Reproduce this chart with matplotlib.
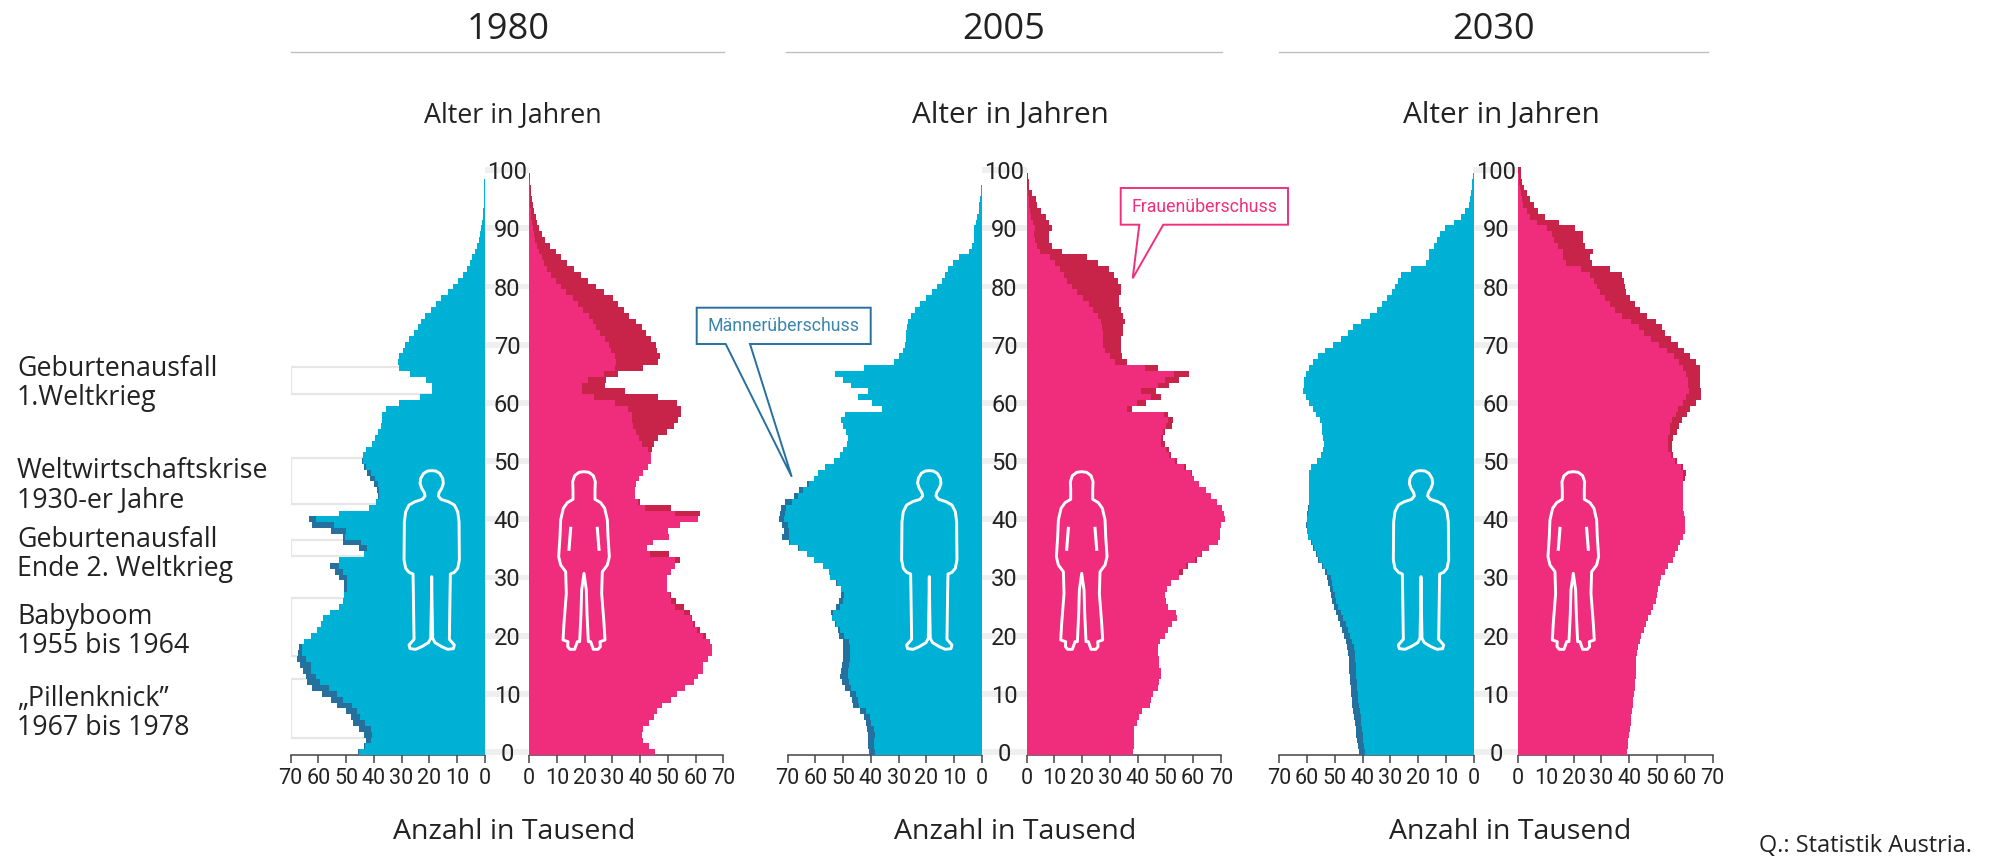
import matplotlib
matplotlib.use("Agg")
import matplotlib.pyplot as plt
from matplotlib.patches import Polygon, Rectangle

W, H = 1991, 857
BODY = ['Open Sans', 'DejaVu Sans']
NARROW = ['Roboto', 'DejaVu Sans']

# values by age, oldest first (age 100 ... age 0), thousands of persons
ages = list(range(100, -1, -1))
male_1980 = [.03,.05,.1,.15,.2,.3,.4,.5,.6,.8,1.2,1.7,2.2,2.8,3.5,4.5,5.3,6.5,7.9,9.5,11.5,13.4,15.6,17.6,19.2,21.4,23,24,25.5,27.2,28.6,29.6,30.8,31.4,30.8,27,21.2,18.9,18.9,23.5,30.9,35.6,37.2,37.2,37.4,38.4,39.6,40.8,42.9,44,44.4,
             43.5,42.6,41.4,39.9,38.7,38.6,39.4,41.6,52.6,63.3,62.3,55.6,51.2,51.2,45.2,43.7,52.4,56,54,52.4,50.8,50.6,50.8,51.2,52.7,55.8,58.5,59.2,60.6,62.8,65.2,66.9,67.4,67.6,66.6,65.4,64.5,64,62.3,58.8,55.6,53.2,50,48.2,47.4,45.2,43.4,42.8,43.4,45.6]
female_1980 = [0,.2,.35,.5,.6,.85,1.2,1.8,2.3,2.8,3.5,4.6,5.7,7.5,9.5,11.4,13.5,16.1,18.6,21.3,24,27,30.3,32.1,34.2,36,38.5,40.8,42.1,43.8,45.6,46.2,47.2,46.5,41,32.1,27.7,27.4,34.6,46.5,53.4,54.6,54.6,53.8,52.2,49.8,46.5,45,44.3,44,43.8,
               42.7,41.1,39.5,38.5,38.1,38.1,40,51.1,61.7,60.7,54.2,50.2,50.4,44.7,42.6,50.4,54.4,52.6,51.1,49.8,49.6,49.8,51,52.8,55.8,58,58.6,59.8,61.6,63.7,65.2,65.8,65.8,64.5,62.8,62.5,61,59.4,56.2,53.2,51,47.8,45.9,45.1,43.2,41.1,40.8,41.1,43.2,45.3]
male_2005 = [.02,.05,.1,.2,.4,.7,1,1.2,1.7,2.2,2.9,2.8,2.9,3.7,4.8,8.4,10.3,12.1,13.3,14.5,16.2,18,20.3,22.3,24,25.6,26.7,27.1,27.4,27.4,27.6,28.3,29.9,31.7,42.5,52.9,49.9,47.2,41.2,44.8,39.7,36,49.3,50.8,50.2,49,48.3,48.5,50.2,51.1,53.3,
             56.5,59.2,60.7,62.9,65.9,67.9,70.9,72.5,72.7,73.3,71.9,71.5,71.9,69.7,66.4,62.9,60.7,57.4,55,54.7,52.6,50.9,50.9,51.5,52.6,54.5,54.1,52.9,52,51.4,49.9,50.2,50.2,50.2,50.3,50.9,51,50.5,49.3,47.5,46.9,46.3,43.9,42.5,41.8,41.3,41.2,41.2,40.9,40.6]
female_2005 = [.2,.5,.7,1,1.8,3.2,3.6,5,6.8,8.2,9.1,8.2,8.2,9.1,12.7,21.8,25.8,29.5,31.5,32.9,34,34,33.4,33.1,34,34.8,35.4,34.8,34.6,34,33.9,33.9,34.5,36,47.2,58.5,54.9,51.1,46.6,48.4,43,37.9,51,52.8,52.2,50,49.2,50,51.3,52,54,
               57.3,59.4,60.4,62.2,64.6,66.3,68.4,70.5,71.1,71.3,69.9,69.7,69.7,69,65.8,63.1,61.2,58.2,56.4,55,52.1,50.7,49.8,50.2,51,53.7,54,52.5,51,49.7,48,47.4,47.4,47.5,47.8,48.3,48.3,47.8,47.2,45.4,44.8,44.4,41.7,40.5,39.9,38.8,38.7,38.8,38.8,38.4]
male_2030 = [.05,.35,.5,.6,1,1.3,1.7,3.1,4.4,7,10.3,12.1,13.1,14.3,16,16.1,17.3,22.6,26,27.3,28.3,29.4,31.1,33,34.8,37.3,40.6,43.5,45.4,47.8,50.8,53.5,56.1,57.9,59.3,60.4,61,61.2,61.3,60.4,59.3,57.7,56.8,55.3,54.7,54.5,54.1,53.8,54.1,55,56.5,
             58.5,59.2,59.2,59.2,59.2,59.2,59.4,59.7,59.9,60.1,60.3,60.1,59.5,58.7,58,56.9,55.9,54.7,53.5,52.7,52.3,51.7,51.4,50.9,50.3,49.7,48.7,48.1,47.3,46.7,46,45.5,45.3,45,44.9,44.8,44.7,44.5,44.3,44.2,43.9,43.7,43.5,43.2,42.9,42.5,42.3,41.9,41.7,41.3]
female_2030 = [1,1.1,1.3,2.3,3.2,4.4,5.8,7.3,9.6,14.6,20.5,23.2,23.5,24.1,26.8,25.9,26.5,33.1,37.5,38.2,38.5,38.9,40.3,42.1,43.8,46.2,49.5,51.7,52.9,55.1,57.5,59.8,61.9,64,65.4,65.5,65.5,65.5,65.8,65.8,63.9,61.9,60.7,58.9,57.9,57.1,55.6,55.2,55.2,55.6,57.1,
               59.3,60.4,60.1,59.5,59.3,59.3,59.3,59.4,59.7,59.9,59.9,59.9,59.5,58.1,57.4,56.5,55.6,54.1,52.7,51.4,50.9,50.5,49.9,49.5,48.7,47.9,46.9,46.1,45.4,44.4,43.7,43.1,42.7,42.6,42.5,42.4,42.3,42.1,42,41.8,41.5,41.2,40.9,40.7,40.5,40.2,40,39.7,39.5,39.1]
years = ['1980', '2005', '2030']
male = [male_1980, male_2005, male_2030]
female = [female_1980, female_2005, female_2030]
age_ticks = [0, 10, 20, 30, 40, 50, 60, 70, 80, 90, 100]
count_ticks = [0, 10, 20, 30, 40, 50, 60, 70]
# age spans outlined behind the 1980 pyramid (low, high)
span_low = [61.6, 42.6, 33.7, 16.5, 2.5]
span_high = [66.2, 50.5, 36.4, 26.5, 12.5]
label_first = ['Geburtenausfall', 'Weltwirtschaftskrise', 'Geburtenausfall', 'Babyboom', '\u201ePillenknick\u201d']
label_second = ['1.Weltkrieg', '1930-er Jahre', 'Ende 2. Weltkrieg', '1955 bis 1964', '1967 bis 1978']

CYAN, BLUE, PINK, RED = '#00B1D6', '#26709E', '#F02C7C', '#C82349'
TXT = '#222222'

fig = plt.figure(figsize=(W / 100, H / 100), dpi=100, facecolor='white')

def axpx(x0, x1, y0, y1):
    return fig.add_axes([x0 / W, 1 - y1 / H, (x1 - x0) / W, (y1 - y0) / H])

# overlay in pixel coordinates for decoration
ov = fig.add_axes([0, 0, 1, 1], zorder=5)
ov.set_xlim(0, W); ov.set_ylim(H, 0); ov.axis('off'); ov.patch.set_alpha(0)

MAN = [(0,32),(12,33),(24,40),(33,55),(35,70),(30,85),(22,98),(20,108),(28,118),(50,125),(68,135),(78,155),(82,185),(83,300),(78,325),(68,337),(56,342),(55,400),(53,538),(68,555),(65,566),(48,568),(30,560),(10,548),(3,535),(1,430),(0,350)]
WOMAN = [(0,35),(15,37),(28,47),(34,65),(33,90),(33,118),(50,128),(62,145),(70,180),(72,230),(76,290),(70,315),(55,335),(53,400),(60,490),(63,540),(48,545),(49,560),(42,568),(28,568),(20,545),(13,545),(9,460),(7,390),(0,340)]
SLIT = [(40,205),(45,268)]

def figure_outline(pts, cx, dy=460):
    r = [(cx + x / 3, dy + y / 3) for x, y in pts]
    l = [(cx - x / 3, dy + y / 3) for x, y in pts[::-1]]
    return r + l[1:-1]

lefts = [(290.7, 484.7), (787.7, 982.0), (1279.3, 1473.7)]
rights = [(529.3, 723.3), (1026.7, 1221.0), (1518.0, 1712.7)]
man_x = [431.7, 929.3, 1421.0]
woman_x = [584.0, 1081.7, 1573.3]
rules = [(291, 724), (786, 1222), (1279, 1708)]
title_x = [508, 1004, 1494]
alter_x = [513, 1010, 1501]
alter_size = [19.4, 21.4, 21.4]
anzahl_x = [514, 1015, 1510]
Y0, Y1 = 167.2, 755.0
edges = [a + 0.5 for a in ages] + [-0.5]

for i in range(3):
    m, f = male[i], female[i]
    both = [min(a, b) for a, b in zip(m, f)]
    axl = axpx(*lefts[i], Y0, Y1)
    axr = axpx(*rights[i], Y0, Y1)
    for ax, outer, col_outer, col_in in ((axl, m, BLUE, CYAN), (axr, f, RED, PINK)):
        ax.stairs(outer, edges, orientation='horizontal', baseline=0, fill=True, color=col_outer, clip_on=False, zorder=3)
        ax.stairs(both, edges, orientation='horizontal', baseline=0, fill=True, color=col_in, clip_on=False, zorder=4)
        ax.set_ylim(-0.5, 100.5)
        ax.set_yticks([])
        ax.set_xticks(count_ticks)
        ax.tick_params(axis='x', length=6, width=1.1, color='#444444', pad=3, labelsize=15.5, labelcolor=TXT)
        for t in ax.get_xticklabels():
            t.set_fontfamily(NARROW)
        for s in ('top', 'left', 'right'):
            ax.spines[s].set_visible(False)
        ax.spines['bottom'].set_color('#444444')
        ax.spines['bottom'].set_linewidth(1.1)
        ax.patch.set_alpha(0)
    axl.set_xlim(70, 0)
    axr.set_xlim(0, 70)
    if i == 0:
        for lo, hi in zip(span_low, span_high):
            axl.add_patch(Rectangle((70, lo), -70, hi - lo, fill=False, ec='#e6e6e6', lw=1.6, zorder=1))
    # gap with age scale
    axc = axpx(lefts[i][1], rights[i][0], Y0, Y1)
    axc.set_xlim(0, 1); axc.set_ylim(-0.5, 100.5); axc.axis('off')
    axc.barh(age_ticks, [1] * len(age_ticks), height=1.0, color='#efefef', lw=0)
    for a in age_ticks:
        axc.text(0.5, a, str(a), ha='center', va='center_baseline', fontsize=17, family=NARROW, color=TXT, clip_on=False)

    ov.text(title_x[i], 30, years[i], ha='center', va='center', fontsize=26, family=BODY, color=TXT)
    ov.plot(rules[i], [52, 52], color='#bdbdbd', lw=1.0)
    ov.text(alter_x[i], 115, 'Alter in Jahren', ha='center', va='center', fontsize=alter_size[i], family=BODY, color=TXT)
    ov.text(anzahl_x[i], 832, 'Anzahl in Tausend', ha='center', va='center', fontsize=20.5, family=BODY, color=TXT)

    ov.add_patch(Polygon(figure_outline(MAN, man_x[i]), closed=True, fill=False, ec='white', lw=2.1, joinstyle='round'))
    ov.add_patch(Polygon(figure_outline(WOMAN, woman_x[i]), closed=True, fill=False, ec='white', lw=2.1, joinstyle='round'))
    for sg in (1, -1):
        ov.plot([woman_x[i] + sg * SLIT[0][0] / 3, woman_x[i] + sg * SLIT[1][0] / 3],
                [460 + SLIT[0][1] / 3, 460 + SLIT[1][1] / 3], color='white', lw=2.2)

# left notes
base1 = [376, 477.7, 546.7, 624, 705.7]
base2 = [405, 506.7, 576, 653, 735]
for a, b, y1, y2 in zip(label_first, label_second, base1, base2):
    ov.text(17, y1, a, ha='left', va='baseline', fontsize=19.3, family=BODY, color=TXT)
    ov.text(17, y2, b, ha='left', va='baseline', fontsize=19.3, family=BODY, color=TXT)

ov.text(1972, 846, 'Q.: Statistik Austria.', ha='right', va='center', fontsize=16.9, family=BODY, color=TXT)

# callouts
BL, PK = '#26709E', '#F0307F'
ov.add_patch(Polygon([(696.7, 307.7), (870.7, 307.7), (870.7, 344), (750, 344), (791.7, 476.7), (725.7, 344), (696.7, 344)],
                     closed=True, fc='white', ec=BL, lw=1.4, zorder=6))
ov.text(783.7, 326, 'M\u00e4nner\u00fcberschuss', ha='center', va='center', fontsize=12.8, family=NARROW, color='#3C86AE', zorder=7)
ov.add_patch(Polygon([(1120.7, 188), (1288, 188), (1288, 224.7), (1163.3, 224.7), (1132.7, 278.3), (1139.3, 224.7), (1120.7, 224.7)],
                     closed=True, fc='white', ec=PK, lw=1.4, zorder=6))
ov.text(1204.3, 206.5, 'Frauen\u00fcberschuss', ha='center', va='center', fontsize=12.8, family=NARROW, color=PK, zorder=7)

fig.savefig('out.png', dpi=100, facecolor='white')
